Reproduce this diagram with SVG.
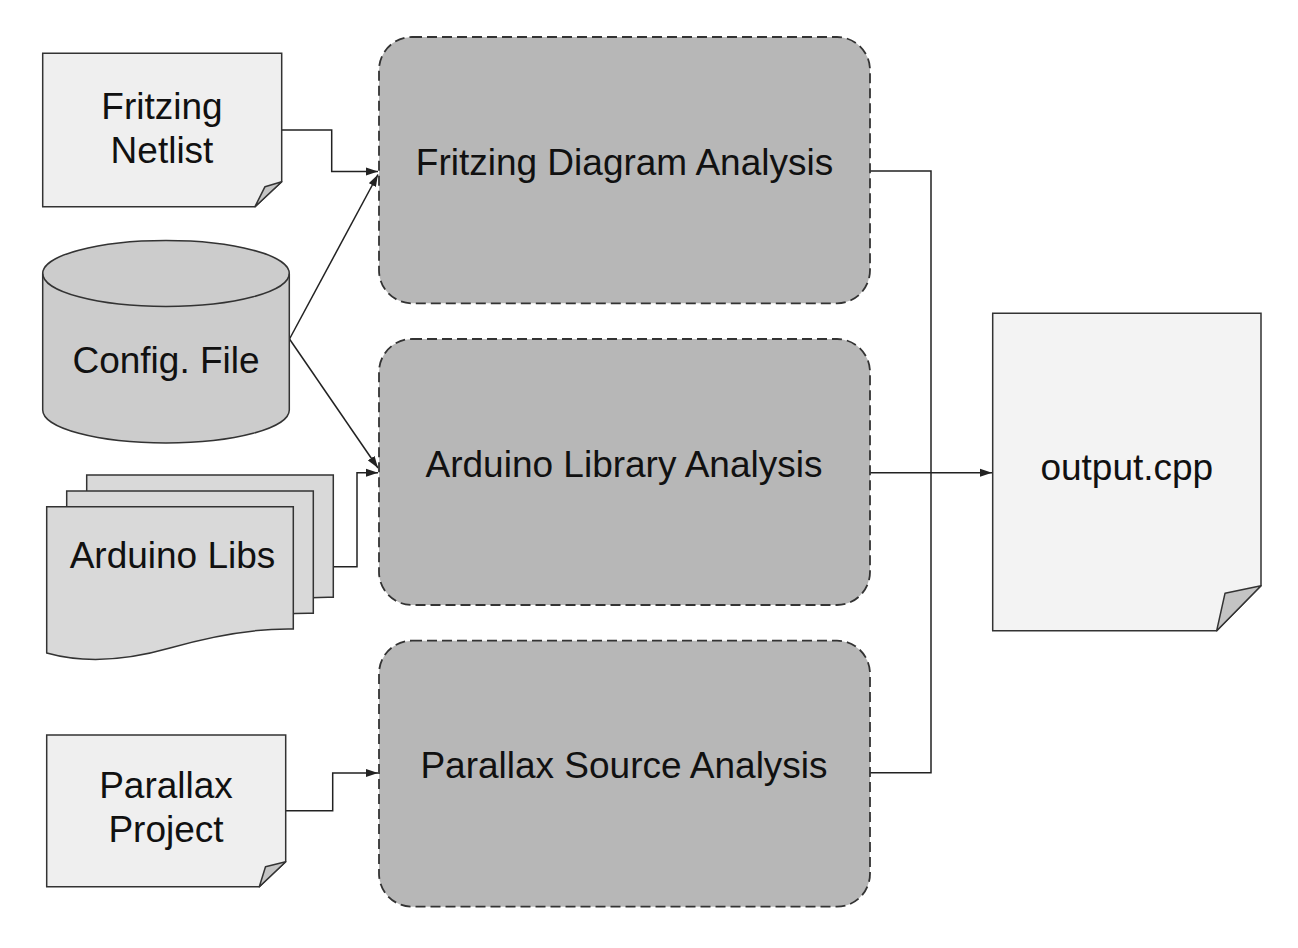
<svg xmlns="http://www.w3.org/2000/svg" width="1298" height="948" viewBox="0 0 1298 948">
<style>
  .doc { stroke:#333; stroke-width:1.5; stroke-linejoin:miter; }
  .fold { fill:#c4c4c4; stroke:#333; stroke-width:1.5; stroke-linejoin:round; }
  .proc { fill:#b7b7b7; stroke:#333; stroke-width:1.8; stroke-dasharray:10,5; }
  .lbl { font-family:"Liberation Sans", Arial, sans-serif; font-size:37px; fill:#111; text-anchor:middle; }
  .conn { fill:none; stroke:#222; stroke-width:1.5; }
</style>
<defs>
  <marker id="arr" markerUnits="userSpaceOnUse" markerWidth="13" markerHeight="9" refX="12" refY="4.5" orient="auto">
    <path d="M0,0.5 L12,4.5 L0,8.5 Z" fill="#222"/>
  </marker>
  <path id="libdoc" d="M46.7,506.7 H293.3 V629 Q240,628 170,648 Q100,668 46.7,653 Z"/>
</defs>
<rect width="1298" height="948" fill="#fff"/>

<g id="connectors">
  <path class="conn" d="M281.7,130 H331.7 V171.5 H378" marker-end="url(#arr)"/>
  <path class="conn" d="M289.5,339 L378,174.5" marker-end="url(#arr)"/>
  <path class="conn" d="M289.5,339 L378,468" marker-end="url(#arr)"/>
  <path class="conn" d="M333.3,566.7 H357 V472.7 H378" marker-end="url(#arr)"/>
  <path class="conn" d="M285.7,810.7 H332.7 V773 H378" marker-end="url(#arr)"/>
  <path class="conn" d="M870,171 H931 V772.7 H870"/>
  <path class="conn" d="M870,472.7 H992" marker-end="url(#arr)"/>
</g>

<g id="fritzing-netlist">
  <path class="doc" fill="#efefef" d="M42.7,53.3 H281.7 V181.7 L255,206.7 H42.7 Z"/>
  <path class="fold" d="M281.7,181.7 L265,186.7 L255,206.7 Z"/>
  <text class="lbl" x="162" y="119">Fritzing</text>
  <text class="lbl" x="162" y="163.3">Netlist</text>
</g>

<g id="config-file">
  <path class="doc" fill="#cccccc" d="M42.7,273.5 V410 A123.3,33 0 0 0 289.3,410 V273.5 A123.3,33 0 0 0 42.7,273.5 Z"/>
  <path fill="none" stroke="#333" stroke-width="1.5" d="M42.7,273.5 A123.3,33 0 0 0 289.3,273.5"/>
  <text class="lbl" x="166" y="373">Config. File</text>
</g>

<g id="arduino-libs">
  <use href="#libdoc" class="doc" fill="#d9d9d9" transform="translate(40,-31.7)"/>
  <use href="#libdoc" class="doc" fill="#d9d9d9" transform="translate(20,-15.8)"/>
  <use href="#libdoc" class="doc" fill="#d9d9d9"/>
  <text class="lbl" x="172.5" y="568.3">Arduino Libs</text>
</g>

<g id="parallax-project">
  <path class="doc" fill="#efefef" d="M46.7,735 H285.7 V861.7 L259.3,886.7 H46.7 Z"/>
  <path class="fold" d="M285.7,861.7 L265.5,866.7 L259.3,886.7 Z"/>
  <text class="lbl" x="166" y="798.3">Parallax</text>
  <text class="lbl" x="166" y="841.7">Project</text>
</g>

<g id="fritzing-analysis">
  <rect class="proc" x="379" y="37" width="491" height="266.3" rx="33" ry="33"/>
  <text class="lbl" x="624.5" y="175">Fritzing Diagram Analysis</text>
</g>

<g id="arduino-analysis">
  <rect class="proc" x="379" y="339" width="491" height="266" rx="33" ry="33"/>
  <text class="lbl" x="624" y="476.7">Arduino Library Analysis</text>
</g>

<g id="parallax-analysis">
  <rect class="proc" x="379" y="640.7" width="491" height="266" rx="33" ry="33"/>
  <text class="lbl" x="624" y="778.3">Parallax Source Analysis</text>
</g>

<g id="output-cpp">
  <path class="doc" fill="#f3f3f3" d="M992.7,313.3 H1261 V585.7 L1216.7,630.7 H992.7 Z"/>
  <path class="fold" d="M1261,585.7 L1225,593.3 L1216.7,630.7 Z"/>
  <text class="lbl" x="1126.8" y="480">output.cpp</text>
</g>
</svg>
